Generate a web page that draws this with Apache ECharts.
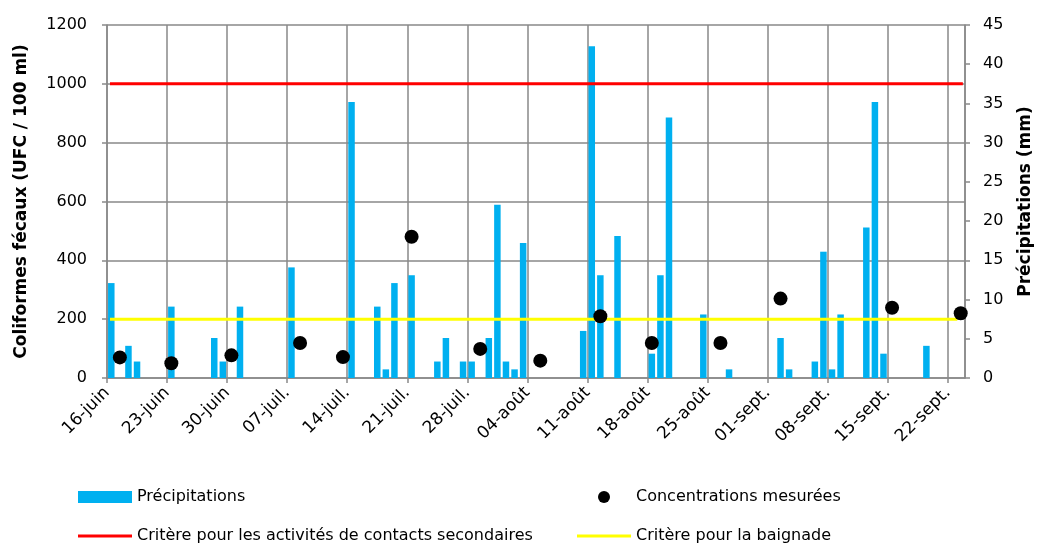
<!DOCTYPE html>
<html>
<head>
<meta charset="utf-8">
<script src="https://cdn.jsdelivr.net/npm/echarts@6/dist/echarts.min.js"></script>
<style>
html,body{margin:0;padding:0;background:#fff;}
#chart{width:1042px;height:546px;}
</style>
</head>
<body>
<div id="chart"></div>
<script>
// Tick labels every 7 days, starting 16-juin (day 0)
const tickLabels = ['16-juin','23-juin','30-juin','07-juil.','14-juil.','21-juil.','28-juil.','04-août','11-août','18-août','25-août','01-sept.','08-sept.','15-sept.','22-sept.'];
// Precipitation: day index since 16-juin, value in mm
const rainDay = [0,2,3,7,12,13,15,21,28,31,32,33,35,38,39,41,42,44,45,46,47,48,55,56,57,59,63,64,65,69,72,78,79,82,83,84,85,88,89,90,95];
const rainMm  = [12.1,4.1,2.1,9.1,5.1,2.1,9.1,14.1,35.2,9.1,1.1,12.1,13.1,2.1,5.1,2.1,2.1,5.1,22.1,2.1,1.1,17.2,6.0,42.3,13.1,18.1,3.1,13.1,33.2,8.1,1.1,5.1,1.1,2.1,16.1,1.1,8.1,19.2,35.2,3.1,4.1];
// Measured concentrations: day index, UFC / 100 ml
const sampleDay = [1,7,14,22,27,35,43,50,57,63,71,78,91,99];
const sampleUfc = [70,50,77,119,71,480,99,59,210,119,119,270,239,220];
// Criteria
const critSecondaire = 1000;
const critBaignade = 200;
const totalDays = 100;

const FONT = 'DejaVu Sans';
const GRID = '#898989';

const legendBase = {orient:'horizontal',itemWidth:54,itemHeight:12,
  textStyle:{fontFamily:FONT,fontSize:16,color:'#000'}};

const chart = echarts.init(document.getElementById('chart'), null, {renderer:'canvas'});
chart.setOption({
  animation:false,
  backgroundColor:'#fff',
  textStyle:{fontFamily:FONT},
  grid:{left:107,right:77,top:25,bottom:168,containLabel:false,outerBoundsMode:'none'},
  legend:[
    Object.assign({},legendBase,{left:73,top:484,data:[{name:'Précipitations',icon:'rect'}]}),
    Object.assign({},legendBase,{left:593,top:484,data:[{name:'Concentrations mesurées',icon:'circle'}]}),
    Object.assign({},legendBase,{left:73,top:523,itemHeight:3,data:[{name:'Critère pour les activités de contacts secondaires',icon:'rect'}]}),
    Object.assign({},legendBase,{left:572,top:523,itemHeight:3,data:[{name:'Critère pour la baignade',icon:'rect'}]})
  ],
  xAxis:{
    type:'value',min:0,max:totalDays,interval:7,
    axisLine:{show:true,lineStyle:{color:GRID,width:1.5}},
    axisTick:{show:true,length:5,lineStyle:{color:GRID,width:1.5}},
    splitLine:{show:true,lineStyle:{color:GRID,width:1.5}},
    axisLabel:{rotate:45,margin:12,fontSize:17,fontFamily:FONT,color:'#000',showMaxLabel:false,
      align:'right',verticalAlign:'middle',
      formatter:v=>{const k=v/7;return Number.isInteger(k)&&tickLabels[k]?tickLabels[k]:'';}}
  },
  yAxis:[
    {type:'value',min:0,max:1200,interval:200,position:'left',
     name:'Coliformes fécaux (UFC / 100 ml)',nameLocation:'middle',nameGap:77,nameRotate:90,
     nameTextStyle:{fontFamily:FONT,fontSize:17,fontWeight:'bold',color:'#000'},
     axisLine:{show:true,lineStyle:{color:GRID,width:1.5}},
     axisTick:{show:true,length:5,lineStyle:{color:GRID,width:1.5}},
     splitLine:{show:true,lineStyle:{color:GRID,width:1.5}},
     axisLabel:{margin:20,fontSize:16,fontFamily:FONT,color:'#000',formatter:v=>String(v)}},
    {type:'value',min:0,max:45,interval:5,position:'right',
     name:'Précipitations (mm)',nameLocation:'middle',nameGap:52,nameRotate:90,
     nameTextStyle:{fontFamily:FONT,fontSize:17,fontWeight:'bold',color:'#000'},
     axisLine:{show:true,lineStyle:{color:GRID,width:1.5}},
     axisTick:{show:true,length:5,lineStyle:{color:GRID,width:1.5}},
     splitLine:{show:false},
     axisLabel:{margin:18,fontSize:16,fontFamily:FONT,color:'#000',formatter:v=>String(v)}}
  ],
  series:[
    {name:'Précipitations',type:'bar',xAxisIndex:0,yAxisIndex:1,barWidth:6.5,
     itemStyle:{color:'#00b0f0'},
     data:rainDay.map((d,i)=>[d+0.5,rainMm[i]]),z:2},
    {name:'Critère pour les activités de contacts secondaires',type:'line',yAxisIndex:0,
     symbol:'none',lineStyle:{color:'#ff0000',width:3},itemStyle:{color:'#ff0000'},
     data:[[0.35,critSecondaire],[99.75,critSecondaire]],z:3},
    {name:'Critère pour la baignade',type:'line',yAxisIndex:0,
     symbol:'none',lineStyle:{color:'#ffff00',width:3},itemStyle:{color:'#ffff00'},
     data:[[0.35,critBaignade],[99.1,critBaignade]],z:3},
    {name:'Concentrations mesurées',type:'scatter',yAxisIndex:0,symbol:'circle',symbolSize:14,
     itemStyle:{color:'#000',opacity:1},
     data:sampleDay.map((d,i)=>[d+0.5,sampleUfc[i]]),z:4}
  ]
});
</script>
</body>
</html>
